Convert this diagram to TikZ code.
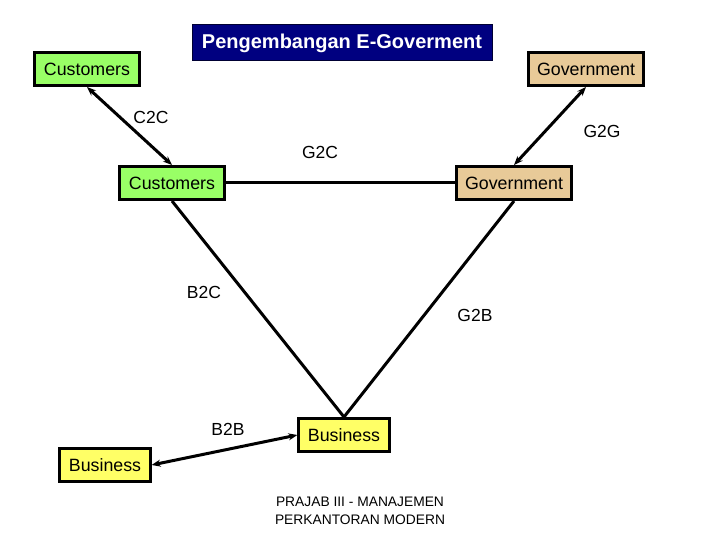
\documentclass[tikz,border=0pt]{standalone}
\usepackage{fontspec}
\setmainfont{Liberation Sans}
\usepackage{xcolor}
\usepackage{tikz}
\usetikzlibrary{shapes,arrows}
\usetikzlibrary{arrows.meta}

\definecolor{custgreen}{RGB}{153,255,102}
\definecolor{govtan}{RGB}{232,202,152}
\definecolor{busyellow}{RGB}{255,255,102}
\definecolor{titlenavy}{RGB}{0,0,128}

\begin{document}
\begin{tikzpicture}[x=1pt, y=-1pt]
\tikzstyle{party}=[draw=black, line width=3pt, inner xsep=9pt, minimum height=33pt, font=\fontsize{17.8}{20}\selectfont]
\tikzstyle{cust}=[party, fill=custgreen]
\tikzstyle{gov}=[party, fill=govtan]
\tikzstyle{bus}=[party, fill=busyellow]
\tikzstyle{link}=[draw=black, line width=3pt]
\tikzstyle{twoway}=[link, {Stealth[length=9pt,width=7pt]}-{Stealth[length=9pt,width=7pt]}]
\tikzstyle{tag}=[font=\fontsize{17.5}{20}\selectfont]

% page frame
\useasboundingbox (0, 0) rectangle (720, 540);

% title
\node[fill=titlenavy, draw=black!60!titlenavy, line width=1pt, minimum width=300pt, minimum height=36pt, text=white, font=\bfseries\fontsize{20}{22}\selectfont] (title) at (342, 43) {Pengembangan E-Goverment};

% parties
\node[cust] (cust-top) at (87, 69) {Customers};
\node[gov] (gov-top) at (586, 69) {Government};
\node[cust] (cust-mid) at (172, 183) {Customers};
\node[gov] (gov-mid) at (514, 183) {Government};
\node[bus] (bus-mid) at (344, 435) {Business};
\node[bus] (bus-left) at (105, 465) {Business};

% relations
\path[twoway] (cust-top.south) -- (cust-mid.north);
\path[twoway] (gov-top.south) -- (gov-mid.north);
\path[link] (cust-mid.east) -- (gov-mid.west);
\path[link] (cust-mid.south) -- (bus-mid.north);
\path[link] (gov-mid.south) -- (bus-mid.north);
\path[twoway] (bus-left.east) -- (bus-mid.west);

% relation names
\node[tag] (c2c) at (151, 117) {C2C};
\node[tag] (g2g) at (602, 131) {G2G};
\node[tag] (g2c) at (320, 152) {G2C};
\node[tag] (b2c) at (204, 292) {B2C};
\node[tag] (g2b) at (475, 315) {G2B};
\node[tag] (b2b) at (228, 429) {B2B};

% footer
\node[align=center, font=\fontsize{13.8}{18}\selectfont] (footer) at (360, 511) {PRAJAB III - MANAJEMEN\\PERKANTORAN MODERN};
\end{tikzpicture}
\end{document}
